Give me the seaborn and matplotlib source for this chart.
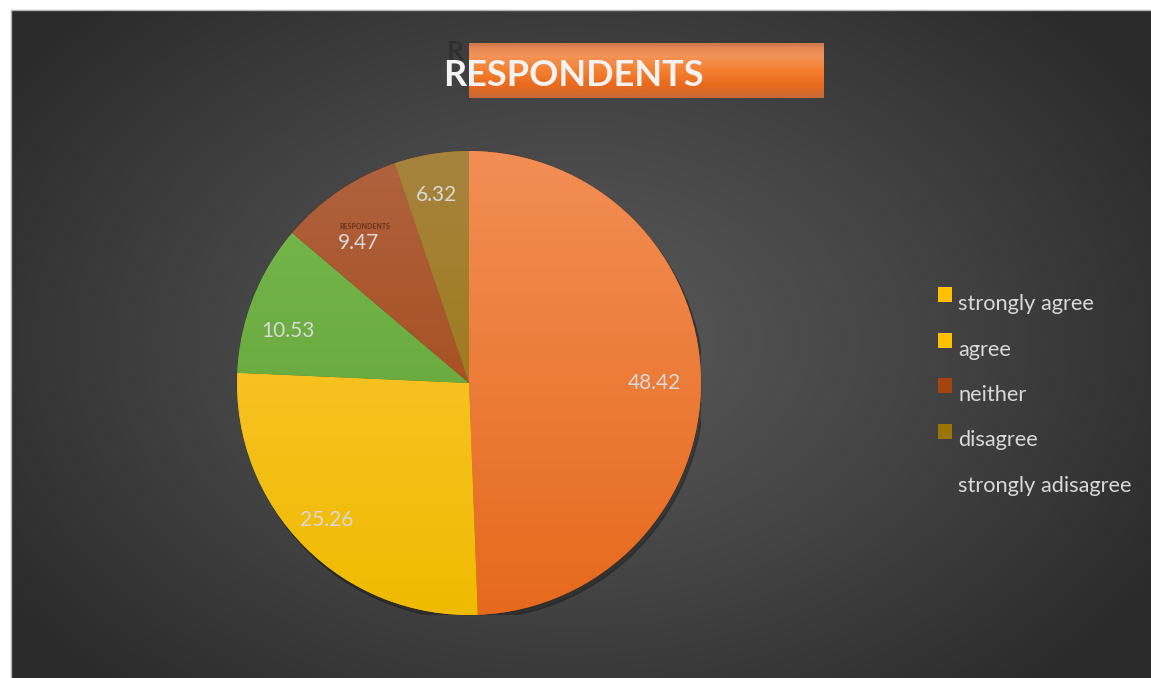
import numpy as np
import seaborn as sns
import matplotlib.pyplot as plt
from matplotlib.colors import LinearSegmentedColormap
from matplotlib.patches import Rectangle, Circle

sns.set_theme(style='white')
plt.rcParams['font.family'] = ['Lato', 'DejaVu Sans']

# data
categories = ['strongly agree', 'agree', 'neither', 'disagree', 'strongly adisagree']
value_labels = ['48.42', '25.26', '10.53', '9.47', '6.32']
# slice shares as drawn in the picture (angles)
slice_shares = [49.4, 26.3, 10.5, 8.6, 5.2]
# slice colours (top, bottom of gradient)
slice_colors = [('#f28e55', '#e66a1c'), ('#ffc840', '#efbb00'), ('#78b94e', '#5e9e32'),
                ('#b0623f', '#a0410b'), ('#a6843e', '#9a7100')]
legend_colors = ['#ffc000', '#ffc000', '#a3430f', '#9b7406', None]
# where excel put each data label (angle in degrees, distance as share of radius)
label_angles = [0, 224, 164, 128.4, 99.7]
label_dists = [0.80, 0.85, 0.81, 0.77, 0.82]

W, H = 1151, 678
fig = plt.figure(figsize=(W / 100, H / 100), dpi=100)
fig.patch.set_facecolor('white')

# dark radial background
bg = fig.add_axes([11 / W, 0, (W - 11) / W, (H - 10) / H])
yy, xx = np.mgrid[0:668, 0:1140]
r = np.clip(np.sqrt(((xx - 560) / 700) ** 2 + ((yy - 330) / 480) ** 2), 0, 1)
bg_cmap = LinearSegmentedColormap.from_list('bg', ['#5a5a5a', '#444444', '#2a2a2a'])
bg.imshow(r, cmap=bg_cmap, aspect='auto', vmin=0, vmax=1)
bg.set_axis_off()
fig.add_artist(plt.Line2D([11 / W, 1], [1 - 9.5 / H, 1 - 9.5 / H], color='#b0b0b0', lw=1))
fig.add_artist(plt.Line2D([10.5 / W, 10.5 / W], [0, 1 - 9.5 / H], color='#b0b0b0', lw=1))

# pie axes, centre (469, 383), radius 232 px
cx, cy, rad = 469, 383, 232
ax = fig.add_axes([(cx - rad) / W, (H - cy - rad) / H, 2 * rad / W, 2 * rad / H])
ax.set_axis_off()
ax.add_patch(Circle((0.012, -0.018), 1.0, color='black', alpha=0.25, zorder=0))
lab_iter = iter(value_labels)
wedges, texts, autotexts = ax.pie(
    slice_shares, startangle=90, counterclock=False, radius=1,
    colors=[c[1] for c in slice_colors],
    autopct=lambda p: next(lab_iter), pctdistance=0.81,
    wedgeprops=dict(linewidth=0.6, edgecolor='#00000030'),
    textprops=dict(color='#d9d9d9', fontsize=15))

grad = np.linspace(0, 1, 256).reshape(-1, 1)
for w, (c_top, c_bot) in zip(wedges, slice_colors):
    cm = LinearSegmentedColormap.from_list('w', [c_top, c_bot])
    im = ax.imshow(grad, cmap=cm, extent=[-1, 1, -1, 1], aspect='auto', zorder=1.5)
    im.set_clip_path(w)
for t, a, d in zip(autotexts, label_angles, label_dists):
    t.set_position((d * np.cos(np.radians(a)), d * np.sin(np.radians(a))))
    t.set_zorder(5)
ax.set_xlim(-1, 1)
ax.set_ylim(-1, 1)
# small stray title inside the chart
ax.text(-0.45, 0.675, 'RESPONDENTS', fontsize=5, color='#5e2c12', ha='center', va='center',
        zorder=4, alpha=0.85, fontweight='bold')

# title with orange band
tax = fig.add_axes([469 / W, 1 - 98 / H, (824 - 469) / W, 55 / H], zorder=2)
tcm = LinearSegmentedColormap.from_list('t', ['#d47a4c', '#f39458', '#f58030', '#e86a1c', '#c86a38'])
band = np.concatenate([np.full(3, 0.0), np.linspace(0.1, 0.9, 46), np.full(3, 1.0)]).reshape(-1, 1)
tax.imshow(band, cmap=tcm, aspect='auto', vmin=0, vmax=1)
tax.set_axis_off()
fig.text(447 / W, 1 - 52 / H, 'R', fontsize=19, fontweight='bold', color='#2c2c2c',
         ha='left', va='center', alpha=0.8, zorder=0.5)
fig.text(573 / W, 1 - 76 / H, 'RESPONDENTS', fontsize=26, fontweight='bold', color='#f2f2f2',
         ha='center', va='center', zorder=10)

# legend
for i, (cat, col) in enumerate(zip(categories, legend_colors)):
    ty = 304 + i * 45.5
    if col is not None:
        fig.add_artist(Rectangle((938 / W, 1 - (ty - 2) / H), 14 / W, 15 / H,
                                 facecolor=col, edgecolor='none'))
    fig.text(958 / W, 1 - ty / H, cat, fontsize=15.7, color='#d9d9d9', va='center', ha='left')

fig.savefig('out.png', dpi=100)
